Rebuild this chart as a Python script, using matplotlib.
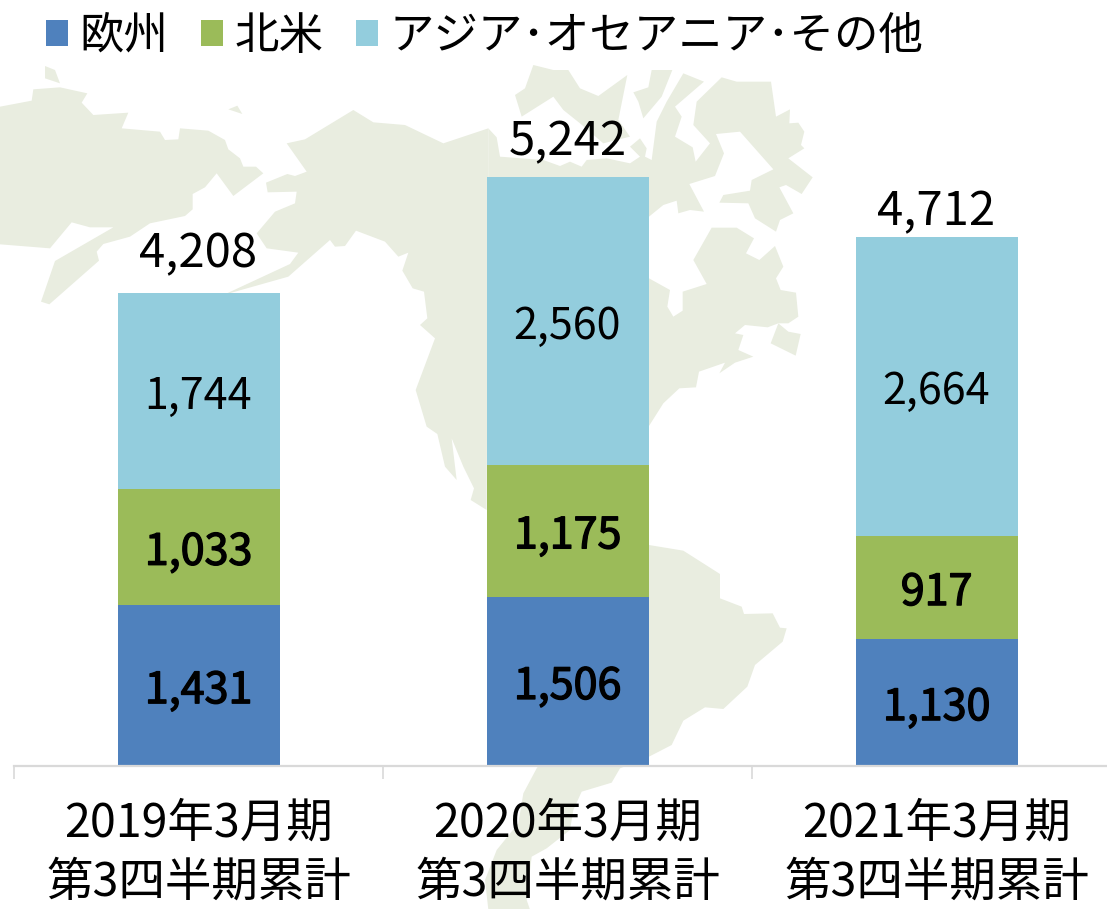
"""
Regional sales, stacked bars over a pale world map.
"""

import matplotlib
matplotlib.use("Agg")
import matplotlib.pyplot as plt
import matplotlib.patheffects as pe
from matplotlib.patches import Polygon

plt.rcParams['font.family'] = ['Noto Sans CJK JP', 'DejaVu Sans']

periods = ['2019年3月期\n第3四半期累計', '2020年3月期\n第3四半期累計', '2021年3月期\n第3四半期累計']
series_names = ['欧州', '北米', 'アジア･オセアニア･その他']
europe = [1431, 1506, 1130]
north_america = [1033, 1175, 917]
asia_other = [1744, 2560, 2664]
totals = [4208, 5242, 4712]

colors = ['#4F81BD', '#9BBB59', '#93CDDD']
map_color = '#E9EDE0'

map_siberia = (0, 60, [
    (0, 140), (95, 122), (100, 88), (180, 82), (262, 100), (245, 128), (280, 165), (385, 158),
    (365, 205), (480, 215), (495, 240), (535, 238), (540, 205), (625, 212), (675, 240), (685, 268),
    (720, 295), (730, 320), (768, 320), (790, 340), (700, 408), (650, 340), (615, 382), (578, 402),
    (578, 448), (555, 468), (450, 490), (390, 530), (310, 552), (290, 575), (297, 602), (148, 733),
    (123, 725), (165, 603), (340, 502), (270, 502), (215, 487), (150, 565), (0, 553)])
map_isle_a = (0, 60, [(135, 18), (165, 30), (180, 70), (135, 55)])
map_isle_b = (0, 60, [(685, 148), (712, 137), (727, 162)])
map_na_west = (0, 60, [
    (1460, 1350), (1412, 1320), (1422, 1285), (1390, 1220), (1355, 1135), (1370, 1260), (1335, 1220),
    (1312, 1122), (1280, 1100), (1247, 990), (1305, 835), (1260, 795), (1282, 775), (1272, 695),
    (1238, 685), (1207, 632), (1225, 578), (1195, 590), (1155, 545), (1068, 512), (1035, 558),
    (1005, 560), (990, 540), (865, 650), (670, 705), (870, 612), (895, 578), (800, 565), (770, 520),
    (825, 455), (885, 430), (890, 395), (803, 397), (798, 368), (862, 342), (885, 348), (920, 335),
    (860, 250), (915, 238), (1060, 150), (1120, 187), (1215, 195), (1330, 250), (1465, 205)])
map_na_east = (400, 60, [
    (265, 205), (290, 232), (300, 290), (430, 300), (480, 318), (510, 305), (545, 320), (560, 300), (620, 295),
    (690, 310), (720, 290), (690, 260), (720, 235), (740, 265), (735, 290), (755, 300), (770, 185),
    (800, 125), (850, 40), (912, 65), (825, 140), (845, 170), (825, 230), (878, 262), (887, 305),
    (930, 250), (880, 195), (890, 125), (965, 52), (1010, 65), (1113, 65), (1128, 170), (1170, 148),
    (1168, 190), (1195, 188), (1213, 215), (1203, 255), (1213, 265), (1165, 295), (1238, 352),
    (1205, 402), (1158, 375), (1138, 382), (1180, 460), (1140, 480), (1128, 515), (1065, 475),
    (1045, 430), (958, 428), (970, 405), (1050, 392), (1055, 360), (1120, 328), (1020, 215), (948, 222),
    (972, 280), (945, 348), (868, 372), (912, 455), (870, 450), (835, 460), (830, 422), (790, 435),
    (747, 470), (700, 560), (747, 655), (810, 690), (802, 740), (820, 770), (848, 752), (848, 695),
    (920, 672), (880, 600), (935, 503), (1010, 503), (1062, 535), (1038, 580), (1078, 600), (1125, 558),
    (1150, 620), (1128, 655), (1142, 690), (1188, 698), (1195, 770), (1165, 790), (1135, 790),
    (1103, 802), (1035, 795), (1005, 820), (1030, 825), (1015, 870), (1060, 890), (1005, 908), (958, 940),
    (975, 908), (897, 935), (888, 982), (838, 985), (790, 1030), (747, 1098), (600, 1340), (262, 1350)])
map_arctic = (400, 60, [
    (345, 105), (375, 85), (400, 15), (460, 30), (505, 30), (540, 85), (595, 108), (682, 45), (655, 180),
    (690, 230), (610, 250), (540, 190), (490, 150), (460, 110), (365, 170)])
map_arctic_b = (400, 60, [(700, 97), (745, 82), (755, 30), (817, 30), (785, 110), (730, 175), (715, 125)])
map_cuba = (400, 60, [(1135, 790), (1165, 815), (1202, 822), (1187, 887), (1112, 850)])
map_south = (400, 460, [
    (600, 240), (747, 255), (850, 272), (960, 342), (960, 415), (1025, 440), (1032, 462), (1118, 460),
    (1140, 503), (1160, 505), (1148, 545), (1065, 615), (1042, 680), (970, 747), (915, 742), (850, 782),
    (815, 855), (747, 890), (660, 925), (635, 968), (545, 995), (520, 1050), (510, 1110), (440, 1165),
    (395, 1190), (380, 1320), (390, 1349), (265, 1349), (255, 1260), (290, 1170), (355, 1090), (370, 1000),
    (410, 925), (500, 800)])
map_shapes = [map_siberia, map_isle_a, map_isle_b, map_na_west, map_na_east, map_arctic,
              map_arctic_b, map_cuba, map_south]

W, H = 1107, 909
fig = plt.figure(figsize=(W / 100, H / 100), dpi=100, facecolor='white')

# background map, in pixels of the figure
bg = fig.add_axes([0, 0, 1, 1], zorder=0)
bg.set_xlim(0, W)
bg.set_ylim(H, 0)
bg.axis('off')
for off_x, off_y, pts in map_shapes:
    xy = [(off_x + x / 3, off_y + y / 3) for x, y in pts]
    bg.add_patch(Polygon(xy, closed=True, facecolor=map_color, edgecolor='none'))

# plot area: baseline at y=766, categories 369 px wide starting at x=14
ax = fig.add_axes([14 / W, (H - 766) / H, 1107 / W, 589 / H], zorder=1)
ax.patch.set_alpha(0)

xs = list(range(len(periods)))
bar_w = 162 / 369
bottoms = [0, 0, 0]
containers = []
for vals, col, name in zip([europe, north_america, asia_other], colors, series_names):
    c = ax.bar(xs, vals, bar_w, bottom=bottoms, color=col, label=name)
    containers.append(c)
    bottoms = [b + v for b, v in zip(bottoms, vals)]

ax.set_xlim(-0.5, 2.5)
ax.set_ylim(0, max(totals))

for c, heavy in zip(containers, [True, True, False]):
    labels = ax.bar_label(c, fmt='{:,.0f}', label_type='center', fontsize=31, color='black')
    for t in labels:
        t.xyann = (0, -4)
        if heavy:
            t.set_path_effects([pe.withStroke(linewidth=1.0, foreground='black')])

# the total labels do not sit at one distance above their bars
total_labels = ax.bar_label(containers[2], labels=[f'{v:,}' for v in totals], fontsize=34, color='black')
for t, gap in zip(total_labels, [10.5, 8, 0]):
    t.xyann = (0, gap)

for side in ['top', 'left', 'right']:
    ax.spines[side].set_visible(False)
ax.spines['bottom'].set_color('#D9D9D9')
ax.spines['bottom'].set_linewidth(1.6)
ax.set_yticks([])
ax.set_xticks(xs)
# pulled up a little so the second line stays inside the figure
ax.set_xticklabels(periods, fontsize=33.5, linespacing=1.27)
ax.tick_params(axis='x', which='major', length=0, pad=24, colors='black')
ax.set_xticks([-0.5, 0.5, 1.5, 2.5], minor=True)
ax.tick_params(axis='x', which='minor', length=9.5, width=1.2, color='#D9D9D9')

fig.legend(handles=containers, loc='upper left', bbox_to_anchor=(6 / W, 1.030), ncols=3, frameon=False,
           fontsize=32, handlelength=0.5, handleheight=0.5, handletextpad=0.26, columnspacing=0.72,
           labelcolor='black')

fig.savefig('out.png', dpi=100)
